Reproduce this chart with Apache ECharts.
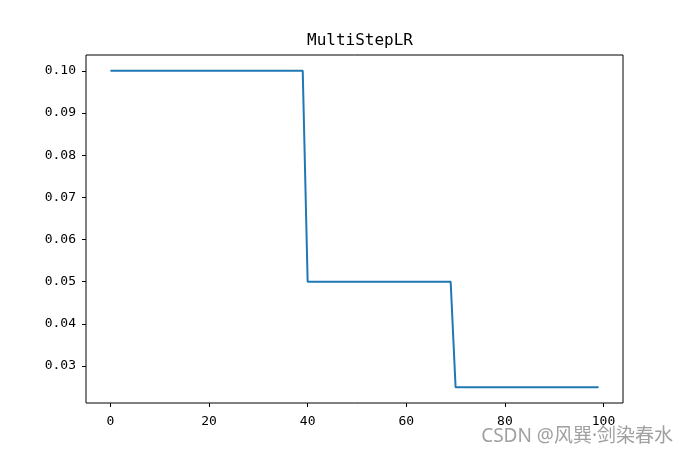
<!DOCTYPE html>
<html>
<head>
<meta charset="utf-8">
<script src="https://cdn.jsdelivr.net/npm/echarts@6/dist/echarts.min.js"></script>
<style>
  html, body { margin: 0; padding: 0; background: #fff; }
  #chart { width: 692px; height: 462px; }
</style>
</head>
<body>
<div id="chart"></div>
<script>
// corner points of the step schedule (epoch, lr)
var epochs = [0, 39, 40, 69, 70, 99];
var lrValues = [0.1, 0.1, 0.05, 0.05, 0.025, 0.025];
var xTicks = [0, 20, 40, 60, 80, 100];
var yTicks = [0.03, 0.04, 0.05, 0.06, 0.07, 0.08, 0.09, 0.10];

var mono = '"DejaVu Sans Mono", "Liberation Mono", monospace';
var chart = echarts.init(document.getElementById('chart'));

var points = epochs.map(function (e, i) { return [e, lrValues[i]]; });

chart.setOption({
  animation: false,
  backgroundColor: '#fff',
  title: {
    text: 'MultiStepLR',
    left: 355,
    textAlign: 'center',
    top: 28,
    textStyle: { fontFamily: mono, fontSize: 16, fontWeight: 'normal', color: '#000' }
  },
  grid: {
    left: 86, right: 69, top: 55, bottom: 59,
    show: true, borderColor: '#000', borderWidth: 1, backgroundColor: '#fff'
  },
  xAxis: {
    type: 'value',
    min: -4.95,
    max: 103.95,
    splitLine: { show: false },
    axisLine: { show: false, onZero: false },
    axisTick: { show: true, length: 4, customValues: xTicks, lineStyle: { color: '#000' } },
    axisLabel: {
      customValues: xTicks, margin: 12,
      fontFamily: mono, fontSize: 13, color: '#000'
    }
  },
  yAxis: {
    type: 'value',
    min: 0.02125,
    max: 0.10375,
    splitLine: { show: false },
    axisLine: { show: false, onZero: false },
    axisTick: { show: true, length: 4, customValues: yTicks, lineStyle: { color: '#000' } },
    axisLabel: {
      customValues: yTicks, margin: 10,
      fontFamily: mono, fontSize: 13, color: '#000',
      formatter: function (v) { return v.toFixed(2); }
    }
  },
  series: [{
    type: 'line',
    data: points,
    showSymbol: false,
    lineStyle: { color: '#1f77b4', width: 2 },
    silent: true
  }],
  graphic: [{
    type: 'text',
    right: 19,
    top: 427,
    style: {
      text: 'CSDN @风巽·剑染春水',
      font: '19px "Noto Sans", "Noto Sans CJK SC", sans-serif',
      fill: '#a0a0a0'
    }
  }]
});
</script>
</body>
</html>
